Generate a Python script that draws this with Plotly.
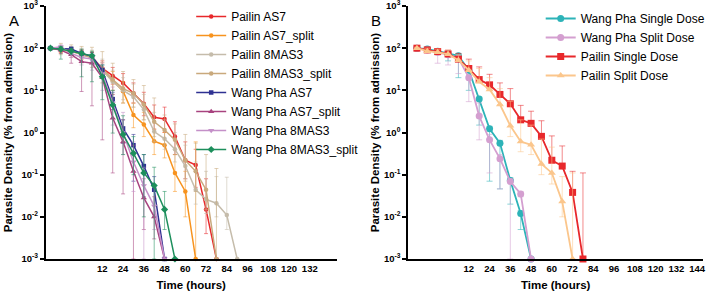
import plotly.graph_objects as go

# ---------------- Panel A data ----------------
times_a = [-18, -12, -6, 0, 6, 12, 18, 24, 30, 36, 42, 48, 54, 60, 66, 72, 78, 84, 90]

pailin_as7 = [100, 95, 88, 75, 62, 33, 22, 15, 8.5, 4.8, 2.3, 2.1, 0.8, 0.22, 0.17, 0.015, 0.001]
pailin_as7_hi = [100, 110, 100, 90, 80, 50, 35, 25, 15, 9, 4.5, 4, 1.8, 0.6, 0.4, 0.08, 0.001]
pailin_as7_lo = [100, 80, 75, 60, 45, 20, 14, 9, 5, 2.5, 1.2, 1, 0.3, 0.08, 0.05, 0.004, 0.001]

pailin_as7_split = [100, 92, 85, 72, 60, 30, 17, 9.5, 2.6, 1.55, 0.62, 0.5, 0.11, 0.04, 0.001]
pailin_as7_split_hi = [100, 105, 100, 90, 80, 45, 28, 16, 5, 3, 1.2, 1, 0.3, 0.12, 0.6]
pailin_as7_split_lo = [100, 80, 70, 55, 45, 20, 10, 5, 1.3, 0.8, 0.3, 0.25, 0.04, 0.01, 0.001]

pailin_8mas3 = [100, 92, 85, 70, 58, 30, 16, 10, 7, 3.5, 1.05, 0.71, 0.40, 0.16, 0.044, 0.026, 0.021, 0.011, 0.001]
pailin_8mas3_hi = [100, 115, 110, 100, 90, 55, 30, 20, 14, 8, 3, 2, 1, 0.5, 0.2, 0.12, 0.09, 0.087, 0.001]
pailin_8mas3_lo = [100, 75, 70, 55, 45, 20, 10, 6, 4, 2, 0.6, 0.4, 0.2, 0.08, 0.02, 0.012, 0.01, 0.005, 0.001]

pailin_8mas3_split = [100, 95, 88, 72, 60, 33, 18, 11, 8.5, 4.6, 1.8, 1.15, 0.67, 0.22, 0.12, 0.044, 0.001]
pailin_8mas3_split_hi = [100, 130, 120, 110, 105, 83, 44, 28, 18, 13, 6.6, 2.6, 1.6, 0.9, 0.56, 0.30, 0.14]
pailin_8mas3_split_lo = [100, 70, 60, 45, 35, 15, 8, 5, 4, 2, 0.8, 0.5, 0.3, 0.07, 0.04, 0.015, 0.001]

wp_as7 = [100, 100, 96, 75, 65, 30, 6.2, 1.25, 0.5, 0.16, 0.044, 0.001]
wp_as7_hi = [100, 110, 105, 90, 80, 40, 9, 2, 0.9, 0.3, 0.09, 0.001]
wp_as7_lo = [100, 85, 80, 60, 50, 22, 3.5, 0.55, 0.07, 0.03, 0.01, 0.001]

wp_as7_split = [100, 90, 70, 48, 44, 20, 2.2, 0.6, 0.12, 0.028, 0.010, 0.001]
wp_as7_split_hi = [100, 105, 85, 60, 55, 35, 8, 2, 0.5, 0.08, 0.03, 0.001]
wp_as7_split_lo = [100, 75, 44, 9.4, 4.3, 0.67, 0.11, 0.035, 0.001, 0.005, 0.003, 0.001]

wp_8mas3 = [100, 108, 75, 60, 55, 25, 5, 1.0, 0.2, 0.055, 0.018, 0.001]
wp_8mas3_hi = [100, 120, 95, 80, 70, 45, 12, 3, 0.6, 0.15, 0.05, 0.001]
wp_8mas3_lo = [100, 95, 60, 40, 30, 10, 1.5, 0.3, 0.04, 0.001, 0.005, 0.001]

wp_8mas3_split = [100, 95, 85, 76, 66, 21, 4.5, 0.9, 0.32, 0.11, 0.055, 0.015, 0.001]
wp_8mas3_split_hi = [100, 110, 100, 95, 85, 40, 10, 2.5, 0.8, 0.3, 0.15, 0.04, 0.001]
wp_8mas3_split_lo = [100, 55, 70, 21, 16, 6, 0.97, 0.3, 0.1, 0.01, 0.001, 0.005, 0.001]

# ---------------- Panel B data ----------------
times_b = [-18, -12, -6, 0, 6, 12, 18, 24, 30, 36, 42, 48, 54, 60, 66, 72, 78]

wp_single = [100, 95, 85, 75, 66, 30, 6.2, 1.23, 0.56, 0.073, 0.012, 0.001]
wp_single_hi = [100, 105, 95, 85, 75, 35, 7, 1.4, 0.65, 0.085, 0.014, 0.001]
wp_single_lo = [100, 85, 70, 50, 20, 10, 1.5, 0.07, 0.046, 0.02, 0.005, 0.001]

wp_split = [100, 90, 80, 70, 58, 20, 2.45, 0.67, 0.24, 0.069, 0.035, 0.001]
wp_split_hi = [100, 95, 90, 80, 65, 22, 5, 0.9, 0.3, 0.08, 0.04, 0.001]
wp_split_lo = [100, 80, 44, 40, 25, 5.4, 0.67, 0.11, 0.046, 0.001, 0.03, 0.001]

pailin_single = [100, 91, 83, 73, 55, 33, 18, 13.5, 8, 4.8, 2.0, 1.65, 0.81, 0.22, 0.16, 0.038, 0.001]
pailin_single_hi = [105, 100, 98, 90, 75, 55, 36, 24, 15, 11, 4.4, 3.2, 1.9, 0.83, 0.48, 0.12, 0.11]
pailin_single_lo = [100, 91, 83, 73, 55, 33, 18, 13.5, 8, 4.8, 2.0, 1.65, 0.81, 0.22, 0.16, 0.038, 0.001]

pailin_split = [100, 85, 80, 72, 52, 30, 16, 10.5, 4.6, 1.45, 0.61, 0.51, 0.18, 0.11, 0.023, 0.001]
pailin_split_hi = [105, 100, 95, 90, 70, 50, 33, 20, 11, 5.5, 2, 1.5, 0.7, 0.45, 0.09, 0.11]
pailin_split_lo = [100, 85, 80, 72, 52, 30, 16, 10.5, 4.6, 0.8, 0.35, 0.3, 0.1, 0.06, 0.01, 0.001]

y_tickvals = [0.001, 0.01, 0.1, 1, 10, 100, 1000]
y_ticktext = ["10<sup>-3</sup>", "10<sup>-2</sup>", "10<sup>-1</sup>", "10<sup>0</sup>",
              "10<sup>1</sup>", "10<sup>2</sup>", "10<sup>3</sup>"]
x_ticks_a = [12, 24, 36, 48, 60, 72, 84, 96, 108, 120, 132]
x_ticks_b = [12, 24, 36, 48, 60, 72, 84, 96, 108, 120, 132, 144]

FONT = "Arial, Liberation Sans, Helvetica, sans-serif"


def rgba(hexc, a):
    h = hexc.lstrip("#")
    r, g, b = int(h[0:2], 16), int(h[2:4], 16), int(h[4:6], 16)
    return f"rgba({r},{g},{b},{a})"


def add_series(fig, name, times, vals, hi, lo, color, symbol, msize, lw,
               xaxis, yaxis, legend, ewidth=2):
    n = len(vals)
    fig.add_trace(go.Scatter(
        x=times[:n], y=vals, name=name, mode="lines+markers",
        line=dict(color=color, width=lw),
        marker=dict(color=color, symbol=symbol, size=msize, line=dict(width=0)),
        error_y=dict(type="data", symmetric=False,
                     array=[h - v for h, v in zip(hi, vals)],
                     arrayminus=[v - l for v, l in zip(vals, lo)],
                     color=rgba(color, 0.55), thickness=1, width=ewidth),
        xaxis=xaxis, yaxis=yaxis, legend=legend, cliponaxis=False,
    ))


fig = go.Figure()

series_a = [
    ("Pailin AS7", pailin_as7, pailin_as7_hi, pailin_as7_lo, "#e8282b", "circle", 4.5),
    ("Pailin AS7_split", pailin_as7_split, pailin_as7_split_hi, pailin_as7_split_lo, "#f7931e", "circle", 4.5),
    ("Pailin 8MAS3", pailin_8mas3, pailin_8mas3_hi, pailin_8mas3_lo, "#c5bcab", "circle", 4.5),
    ("Pailin 8MAS3_split", pailin_8mas3_split, pailin_8mas3_split_hi, pailin_8mas3_split_lo, "#c9a97c", "circle", 4.5),
    ("Wang Pha AS7", wp_as7, wp_as7_hi, wp_as7_lo, "#2e3192", "square", 4.5),
    ("Wang Pha AS7_split", wp_as7_split, wp_as7_split_hi, wp_as7_split_lo, "#a8437f", "triangle-up", 5.5),
    ("Wang Pha 8MAS3", wp_8mas3, wp_8mas3_hi, wp_8mas3_lo, "#c490c8", "triangle-down", 5.5),
    ("Wang Pha 8MAS3_split", wp_8mas3_split, wp_8mas3_split_hi, wp_8mas3_split_lo, "#1d8f5c", "diamond", 5.5),
]
for name, v, hi, lo, c, sym, ms in series_a:
    add_series(fig, name, times_a, v, hi, lo, c, sym, ms, 1.5, "x", "y", "legend")

series_b = [
    ("Wang Pha Single Dose", wp_single, wp_single_hi, wp_single_lo, "#2db3b8", "circle", 7),
    ("Wang Pha Split Dose", wp_split, wp_split_hi, wp_split_lo, "#d49fd0", "circle", 7),
    ("Pailin Single Dose", pailin_single, pailin_single_hi, pailin_single_lo, "#e8282b", "square", 7),
    ("Pailin Split Dose", pailin_split, pailin_split_hi, pailin_split_lo, "#fbc68c", "triangle-up", 7),
]
for name, v, hi, lo, c, sym, ms in series_b:
    add_series(fig, name, times_b, v, hi, lo, c, sym, ms, 1.8, "x2", "y2", "legend2",
               ewidth=3)

W, H = 710, 293
ydom = [1 - 259 / H, 1 - 6 / H]

axis_common = dict(showline=True, linecolor="black", linewidth=2, showgrid=False,
                   zeroline=False, automargin=False, ticklabeloverflow="allow",
                   tickfont=dict(family=FONT, size=9.5, color="black", weight="bold"))

yaxis_common = dict(axis_common, type="log", range=[-3, 3.0005], tickvals=y_tickvals,
                    ticktext=y_ticktext, ticks="outside", ticklen=4, tickwidth=1.5,
                    tickcolor="black",
                    title=dict(text="Parasite Density (% from admission)",
                               font=dict(family=FONT, size=11.5, color="black", weight="bold"),
                               standoff=6))

xaxis_title = dict(text="Time (hours)", font=dict(family=FONT, size=11.5, color="black", weight="bold"),
                   standoff=8)

fig.update_layout(
    width=W, height=H,
    margin=dict(l=0, r=0, t=0, b=0),
    paper_bgcolor="white", plot_bgcolor="white",
    font=dict(family=FONT, color="black"),
    xaxis=dict(axis_common, domain=[46 / W, 338 / W], range=[-20.7, 147.5],
               tickvals=x_ticks_a, ticks="", anchor="y", title=xaxis_title),
    yaxis=dict(yaxis_common, domain=ydom, anchor="x"),
    xaxis2=dict(axis_common, domain=[410 / W, 706 / W], range=[-23.0, 147.4],
                tickvals=x_ticks_b, ticks="", anchor="y2", title=xaxis_title),
    yaxis2=dict(yaxis_common, domain=ydom, anchor="x2",
                title=dict(yaxis_common["title"], standoff=2)),
    legend=dict(x=192 / W, y=1 - 2 / H, xanchor="left", yanchor="top",
                bgcolor="rgba(0,0,0,0)", font=dict(family=FONT, size=12, color="black")),
    legend2=dict(x=543 / W, y=1 - 4 / H, xanchor="left", yanchor="top",
                 bgcolor="rgba(0,0,0,0)", font=dict(family=FONT, size=12, color="black")),
    annotations=[
        dict(text="A", x=7.5 / W, y=1 - 10 / H, xref="paper", yref="paper",
             showarrow=False, font=dict(family=FONT, size=15, color="black")),
        dict(text="B", x=377.5 / W, y=1 - 10 / H, xref="paper", yref="paper",
             showarrow=False, font=dict(family=FONT, size=15, color="black")),
    ],
)

fig.write_html(
    "out.html",
    config={"displayModeBar": False},
    post_script="document.body.style.margin='0';document.body.style.overflow='hidden';",
)
